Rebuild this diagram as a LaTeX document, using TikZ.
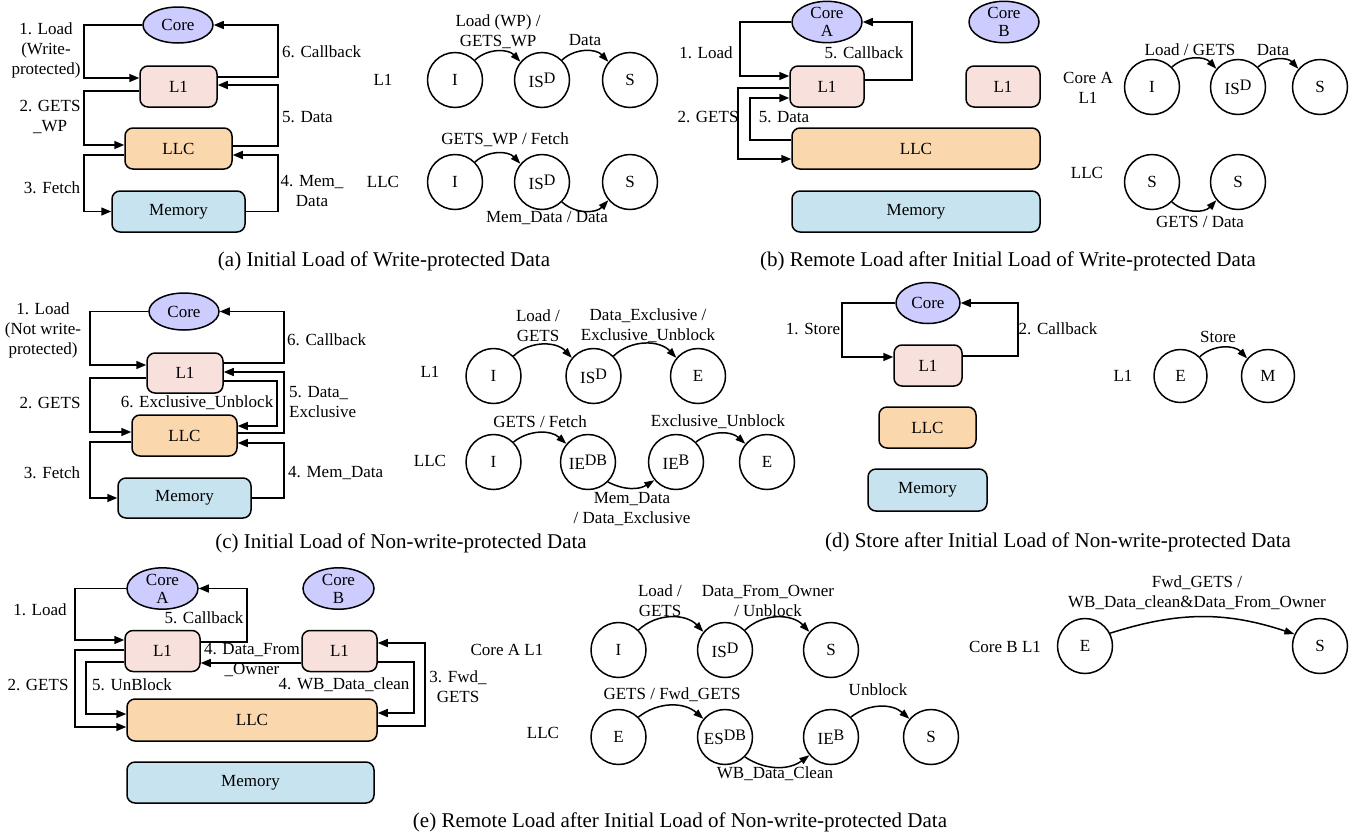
\documentclass[tikz,border=0pt]{standalone}
\usepackage{fontspec}
\setmainfont{Liberation Serif}
\usetikzlibrary{arrows.meta,shapes.geometric}
\definecolor{coreblue}{HTML}{CCCCFF}
\definecolor{lonepink}{HTML}{F8E1DC}
\definecolor{llcpeach}{HTML}{FAD7AC}
\definecolor{memblue}{HTML}{C6E3EF}
\newcommand\stsup[1]{\raisebox{0.55ex}{\fontsize{16}{16}\selectfont #1}}

\begin{document}
\begin{tikzpicture}[x=1pt,y=-1pt,
  corenode/.style={ellipse, draw=black, line width=1.5pt, fill=coreblue,
    inner sep=0pt, minimum width=70pt, minimum height=40pt, align=center,
    font=\fontsize{17}{18}\selectfont},
  cachebox/.style={draw=black, line width=1.5pt, rounded corners=8pt,
    inner sep=0pt, minimum height=41pt, font=\fontsize{17}{20}\selectfont},
  l1box/.style={cachebox, fill=lonepink, minimum width=75pt},
  llcbox/.style={cachebox, fill=llcpeach},
  membox/.style={cachebox, fill=memblue},
  statenode/.style={circle, draw=black, line width=1.5pt, minimum size=55pt,
    inner sep=0pt, font=\fontsize{17}{20}\selectfont},
  msgarrow/.style={-{Triangle[length=10pt,width=8pt]}, line width=1.5pt},
  transarrow/.style={-{Triangle[length=10pt,width=7pt]}, line width=1.5pt},
  lbl/.style={inner sep=0pt, align=center, font=\fontsize{17}{20}\selectfont},
  capt/.style={inner sep=0pt, font=\fontsize{21}{24}\selectfont}
]
\useasboundingbox (0,0) rectangle (1357,836);

% (a)
\node[corenode, minimum height=36pt] (acore) at (178,25) {Core};
\node[l1box, minimum width=77pt] (al1) at (178.5,86.5) {L1};
\node[llcbox, minimum width=107pt] (allc) at (178.5,148.5) {LLC};
\node[membox, minimum width=133pt] (amem) at (178.5,211.5) {Memory};
\draw[msgarrow] (acore.west) -| (84,78) -- (al1.west |- 0,78);
\draw[msgarrow] (al1.east |- 0,77) -| (278,25) -- (acore.east);
\draw[msgarrow] (al1.west |- 0,91) -| (84,145) -- (allc.west |- 0,145);
\draw[msgarrow] (allc.east |- 0,146) -| (278,85) -- (al1.east |- 0,85);
\draw[msgarrow] (allc.west |- 0,155) -| (84,211.5) -- (amem.west);
\draw[msgarrow] (amem.east) -| (278,155) -- (allc.east |- 0,155);
\node[lbl] (aloadlbl) at (46,50) {1. Load\\(Write-\\protected)};
\node[lbl] (agetslbl) at (50,117) {2. GETS\\\_WP};
\node[lbl] (afetchlbl) at (52,188) {3. Fetch};
\node[lbl, anchor=west] (acalllbl) at (282,52) {6. Callback};
\node[lbl, anchor=west] (adatalbl) at (282,117) {5. Data};
\node[lbl] (amemlbl) at (312,191) {4. Mem\_\\Data};

\node[lbl] (arowl1) at (383,80) {L1};
\node[statenode] (ai) at (455,80) {I};
\node[statenode] (aisd) at (542,80) {IS\stsup{D}};
\node[statenode] (as) at (630,80) {S};
\draw[transarrow] (ai.45) to[bend left=45] (aisd.140);
\draw[transarrow] (aisd.45) to[bend left=45] (as.140);
\node[lbl] (aloadwp) at (498,32) {Load (WP) /\\GETS\_WP};
\node[lbl] (adatatr) at (585,40) {Data};
\node[lbl] (arowllc) at (383,182) {LLC};
\node[statenode] (ali) at (455,182) {I};
\node[statenode] (alisd) at (542,182) {IS\stsup{D}};
\node[statenode] (als) at (630,182) {S};
\draw[transarrow] (ali.45) to[bend left=45] (alisd.140);
\draw[transarrow] (alisd.-45) to[bend right=45] (als.-140);
\node[lbl] (agetswp) at (505,140) {GETS\_WP / Fetch};
\node[lbl] (amemdata) at (547,218) {Mem\_Data / Data};
\node[capt] (acapt) at (384,261) {(a) Initial Load of Write-protected Data};

% (b)
\node[corenode] (bcorea) at (827,22) {Core\\A};
\node[corenode] (bcoreb) at (1004,22) {Core\\B};
\node[l1box, minimum width=74pt] (bl1a) at (827,86.5) {L1};
\node[l1box, minimum width=74pt] (bl1b) at (1003,86.5) {L1};
\node[llcbox, minimum width=248pt] (bllc) at (916,148.5) {LLC};
\node[membox, minimum width=248pt] (bmem) at (916,211.5) {Memory};
\draw[msgarrow] (bcorea.west) -| (740,76) -- (bl1a.west |- 0,76);
\draw[msgarrow] (bl1a.east |- 0,80) -| (912,22) -- (bcorea.east);
\draw[msgarrow] (bl1a.west |- 0,88) -| (738,159) -- (bllc.west |- 0,159);
\draw[msgarrow] (bllc.west |- 0,140) -| (750,98) -- (bl1a.west |- 0,98);
\node[lbl] (bloadlbl) at (706,53) {1. Load};
\node[lbl] (bgetslbl) at (708,117) {2. GETS};
\node[lbl] (bcalllbl) at (864,53) {5. Callback};
\node[lbl] (bdatalbl) at (784,117) {5. Data};

\node[lbl] (browl1) at (1088,88) {Core A\\L1};
\node[statenode] (bi) at (1152,87) {I};
\node[statenode] (bisd) at (1238,87) {IS\stsup{D}};
\node[statenode] (bs) at (1320,87) {S};
\draw[transarrow] (bi.45) to[bend left=45] (bisd.140);
\draw[transarrow] (bisd.45) to[bend left=45] (bs.140);
\node[lbl] (bloadgets) at (1190,50) {Load / GETS};
\node[lbl] (bdatatr) at (1273,50) {Data};
\node[lbl] (browllc) at (1087,173) {LLC};
\node[statenode] (bls) at (1152,182) {S};
\node[statenode] (blss) at (1238,182) {S};
\draw[transarrow] (bls.-45) to[bend right=45] (blss.-140);
\node[lbl] (bgetsdata) at (1200,222) {GETS / Data};
\node[capt] (bcapt) at (1008,261) {(b) Remote Load after Initial Load of Write-protected Data};

% (c)
\node[corenode, minimum height=37pt] (ccore) at (184,311.5) {Core};
\node[l1box, minimum width=76pt, minimum height=40pt] (cl1) at (185,373) {L1};
\node[llcbox, minimum width=105pt] (cllc) at (184.5,435.5) {LLC};
\node[membox, minimum width=133pt, minimum height=40pt] (cmem) at (184.5,498) {Memory};
\draw[msgarrow] (ccore.west) -| (90,365) -- (cl1.west |- 0,365);
\draw[msgarrow] (cl1.east |- 0,363) -| (284,311.5) -- (ccore.east);
\draw[msgarrow] (cl1.west |- 0,378) -| (90,432) -- (cllc.west |- 0,432);
\draw[msgarrow] (cl1.east |- 0,381) -| (277,426) -- (cllc.east |- 0,426);
\draw[msgarrow] (cllc.east |- 0,433) -| (284,372) -- (cl1.east |- 0,372);
\draw[msgarrow] (cllc.west |- 0,442) -| (90,498) -- (cmem.west);
\draw[msgarrow] (cmem.east) -| (284,443) -- (cllc.east |- 0,443);
\node[lbl] (cloadlbl) at (43,330) {1. Load\\(Not write-\\protected)};
\node[lbl] (cgetslbl) at (50,403) {2. GETS};
\node[lbl] (cunblbl) at (197,403) {6. Exclusive\_Unblock};
\node[lbl] (cfetchlbl) at (52,473) {3. Fetch};
\node[lbl, anchor=west] (ccalllbl) at (287,340) {6. Callback};
\node[lbl, anchor=west, align=left] (cdatalbl) at (289,402) {5. Data\_\\Exclusive};
\node[lbl, anchor=west] (cmemlbl) at (288,473) {4. Mem\_Data};

\node[lbl] (crowl1) at (430,372) {L1};
\node[statenode] (ci) at (493.5,376) {I};
\node[statenode] (cisd) at (593.5,376) {IS\stsup{D}};
\node[statenode] (ce) at (698,376) {E};
\draw[transarrow] (ci.45) to[bend left=45] (cisd.140);
\draw[transarrow] (cisd.45) to[bend left=45] (ce.140);
\node[lbl] (cloadgets) at (538,326) {Load /\\GETS};
\node[lbl] (cdataex) at (648,326) {Data\_Exclusive /\\Exclusive\_Unblock};
\node[lbl] (crowllc) at (430,461) {LLC};
\node[statenode] (cli) at (493.5,462) {I};
\node[statenode] (cliedb) at (588,462) {IE\stsup{DB}};
\node[statenode] (clieb) at (676,462) {IE\stsup{B}};
\node[statenode] (cle) at (767,462) {E};
\draw[transarrow] (cli.45) to[bend left=40] (cliedb.140);
\draw[transarrow] (cliedb.-45) to[bend right=30] (clieb.-140);
\draw[transarrow] (clieb.45) to[bend left=40] (cle.140);
\node[lbl] (cgetsfetch) at (540,422) {GETS / Fetch};
\node[lbl] (cexunb) at (718,422) {Exclusive\_Unblock};
\node[lbl] (cmemdata) at (632,509) {Mem\_Data\\/ Data\_Exclusive};
\node[capt] (ccapt) at (401,543) {(c) Initial Load of Non-write-protected Data};

% (d)
\node[corenode, minimum width=64pt, minimum height=41pt] (dcore) at (928,303) {Core};
\node[l1box, minimum width=68pt] (dl1) at (928,365.5) {L1};
\node[llcbox, minimum width=97pt] (dllc) at (927.5,427.5) {LLC};
\node[membox, minimum width=119pt, minimum height=42pt] (dmem) at (927.5,490) {Memory};
\draw[msgarrow] (dcore.west) -| (842,357) -- (dl1.west |- 0,357);
\draw[msgarrow] (dl1.east |- 0,356) -| (1018,303) -- (dcore.east);
\node[lbl] (dstorelbl) at (813,329) {1. Store};
\node[lbl] (dcalllbl) at (1058,329) {2. Callback};
\node[lbl] (drowl1) at (1123,376) {L1};
\node[statenode, minimum size=53pt] (de) at (1180.5,376) {E};
\node[statenode, minimum size=53pt] (dm) at (1268,376) {M};
\draw[transarrow] (de.45) to[bend left=45] (dm.140);
\node[lbl] (dstoretr) at (1218,337) {Store};
\node[capt] (dcapt) at (1058,542) {(d) Store after Initial Load of Non-write-protected Data};

% (e)
\node[corenode, minimum width=71pt] (ecorea) at (162.5,588.5) {Core\\A};
\node[corenode, minimum width=71pt] (ecoreb) at (338.5,588.5) {Core\\B};
\node[l1box] (el1a) at (162.5,651) {L1};
\node[l1box] (el1b) at (339.5,651) {L1};
\node[llcbox, minimum width=250pt, minimum height=42pt] (ellc) at (252,720) {LLC};
\node[membox, minimum width=247pt] (emem) at (250.5,782.5) {Memory};
\draw[msgarrow] (ecorea.west) -| (75,640) -- (el1a.west |- 0,640);
\draw[msgarrow] (el1a.east |- 0,642) -| (247,588.5) -- (ecorea.east);
\draw[msgarrow] (el1a.west |- 0,650) -| (75,727) -- (ellc.west |- 0,727);
\draw[msgarrow] (el1a.west |- 0,662) -| (86,714) -- (ellc.west |- 0,714);
\draw[msgarrow] (el1b.west |- 0,663) -- (el1a.east |- 0,663);
\draw[msgarrow] (el1b.east |- 0,662) -| (414,713) -- (ellc.east |- 0,713);
\draw[msgarrow] (ellc.east |- 0,726) -| (425,643) -- (el1b.east |- 0,643);
\node[lbl] (eloadlbl) at (40,610) {1. Load};
\node[lbl] (egetslbl) at (38,685) {2. GETS};
\node[lbl] (eunblbl) at (132,685) {5. UnBlock};
\node[lbl] (ecalllbl) at (204,618) {5. Callback};
\node[lbl] (eownerlbl) at (252,660) {4. Data\_From\\\_Owner};
\node[lbl] (ewblbl) at (344,685) {4. WB\_Data\_clean};
\node[lbl] (efwdlbl) at (458,687) {3. Fwd\_\\GETS};

\node[lbl] (erowl1) at (507,650) {Core A L1};
\node[statenode] (ei) at (618.5,650) {I};
\node[statenode] (eisd) at (725,650) {IS\stsup{D}};
\node[statenode] (es) at (831,650) {S};
\draw[transarrow] (ei.45) to[bend left=45] (eisd.140);
\draw[transarrow] (eisd.45) to[bend left=45] (es.140);
\node[lbl] (eloadgets) at (660,601) {Load /\\GETS};
\node[lbl] (edfo) at (768,601) {Data\_From\_Owner\\/ Unblock};
\node[lbl] (erowllc) at (543,733) {LLC};
\node[statenode] (ele) at (618.5,737) {E};
\node[statenode] (elesdb) at (725,737) {ES\stsup{DB}};
\node[statenode] (elieb) at (831,737) {IE\stsup{B}};
\node[statenode] (els) at (931,737) {S};
\draw[transarrow] (ele.45) to[bend left=40] (elesdb.140);
\draw[transarrow] (elesdb.-45) to[bend right=35] (elieb.-140);
\draw[transarrow] (elieb.45) to[bend left=40] (els.140);
\node[lbl] (egetsfwd) at (672,695) {GETS / Fwd\_GETS};
\node[lbl] (eunbtr) at (878,690) {Unblock};
\node[lbl] (ewbclean) at (775,774) {WB\_Data\_Clean};
\node[lbl] (erowbl1) at (1005,647) {Core B L1};
\node[statenode] (ebe) at (1085,646) {E};
\node[statenode] (ebs) at (1320,646) {S};
\draw[transarrow] (ebe.27) to[bend left=18] (ebs.155);
\node[lbl] (efwdgets) at (1197,593) {Fwd\_GETS /\\WB\_Data\_clean\&Data\_From\_Owner};
\node[capt] (ecapt) at (680,822) {(e) Remote Load after Initial Load of Non-write-protected Data};
\end{tikzpicture}
\end{document}
